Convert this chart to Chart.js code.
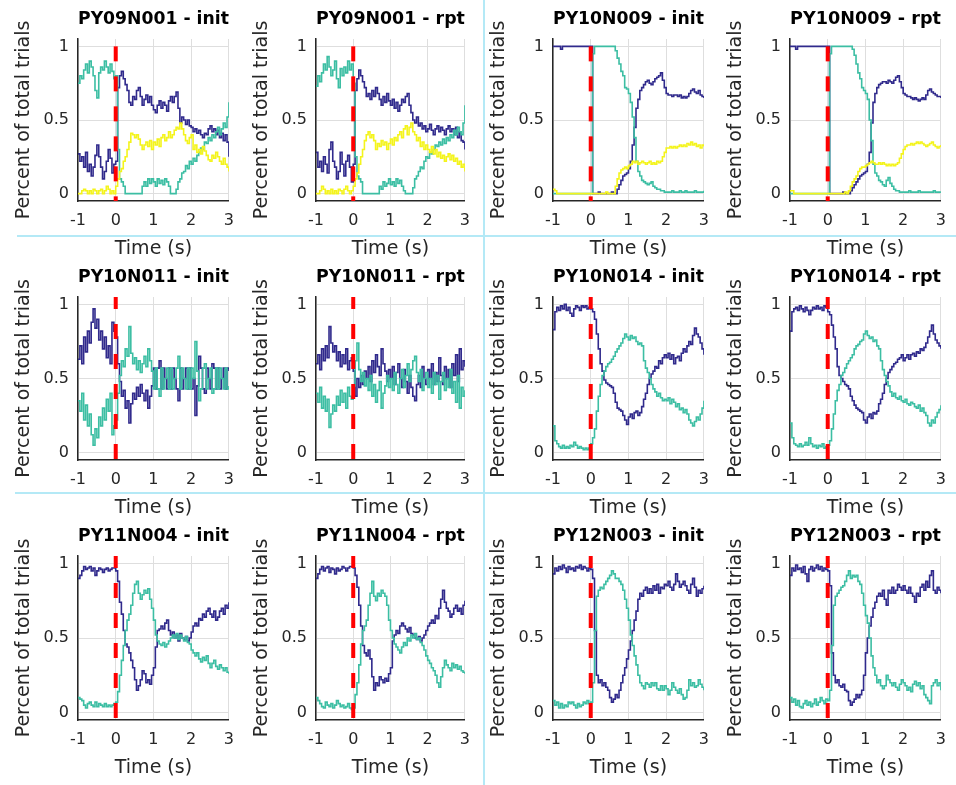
<!DOCTYPE html>
<html>
<head>
<meta charset="utf-8">
<script src="https://cdn.jsdelivr.net/npm/chart.js@4/dist/chart.umd.min.js"></script>
<style>
  html, body { margin: 0; padding: 0; background: #ffffff; }
  #fig { position: relative; width: 956px; height: 785px; overflow: hidden; background: #ffffff; }
  #fig canvas { position: absolute; }
  .sep { position: absolute; background: #b4e9f6; }
</style>
</head>
<body>
<div id="fig"></div>
<script>
// Sample times: -1 s to 3 s in 50 ms bins around the event
const TIME_START = -1;
const TIME_STEP = 0.05;
const SAMPLE_COUNT = 81;
const times = Array.from({ length: SAMPLE_COUNT }, (_, i) => +(TIME_START + i * TIME_STEP).toFixed(2));

const yTicks = [0, 0.5, 1];
const EVENT_TIME = 0;

// ---- PY09N001 ----
const py09n001InitBlue = [
  .27,.22,.25,.18,.28,.15,.20,.12,.18,.26,
  .33,.25,.18,.10,.15,.22,.30,.24,.14,.20,
  .22,.72,.80,.83,.78,.74,.70,.62,.60,.66,
  .64,.70,.72,.66,.60,.64,.67,.62,.66,.60,
  .57,.55,.60,.63,.58,.62,.60,.56,.63,.66,
  .62,.66,.69,.58,.48,.52,.50,.47,.50,.46,
  .45,.42,.44,.41,.43,.40,.38,.41,.40,.44,
  .46,.42,.44,.40,.43,.38,.41,.36,.40,.35,
  .25];
const py09n001InitTeal = [
  .75,.80,.78,.84,.88,.82,.90,.86,.80,.70,
  .65,.82,.86,.84,.90,.86,.82,.88,.83,.78,
  .80,.30,.10,.08,.05,0,0,0,0,0,
  0,0,0,0,.05,.08,.05,.10,.07,.10,
  .08,.05,.10,.07,.09,.06,.10,.08,.05,0,
  0,0,.03,.08,.10,.14,.15,.19,.17,.22,
  .20,.24,.22,.26,.28,.31,.30,.35,.34,.38,
  .36,.40,.38,.42,.45,.40,.44,.48,.45,.52,
  .62];
const py09n001InitYellow = [
  0,0,.02,.03,.02,0,.02,0,.03,.02,
  0,.02,.03,0,.02,.05,.03,0,.02,0,
  .05,.10,.15,.17,.22,.25,.30,.35,.41,.40,
  .38,.40,.37,.33,.30,.33,.35,.32,.36,.30,
  .35,.33,.37,.32,.38,.40,.36,.38,.42,.38,
  .40,.43,.45,.44,.48,.44,.40,.36,.34,.38,
  .40,.30,.33,.28,.30,.27,.32,.29,.26,.23,
  .22,.26,.24,.28,.25,.22,.20,.24,.20,.18,
  .15];
const py09n001RptBlue = [
  .28,.18,.22,.15,.25,.20,.14,.30,.35,.22,
  .18,.10,.15,.28,.20,.12,.22,.26,.18,.08,
  .20,.70,.78,.84,.80,.76,.72,.66,.68,.64,
  .70,.66,.72,.68,.64,.60,.66,.62,.68,.63,
  .60,.64,.58,.62,.56,.60,.64,.62,.66,.68,
  .60,.55,.50,.48,.52,.46,.48,.44,.46,.42,
  .44,.47,.43,.40,.44,.46,.42,.45,.43,.40,
  .44,.46,.42,.44,.40,.45,.38,.42,.36,.35,
  .30];
const py09n001RptTeal = [
  .73,.80,.76,.82,.88,.84,.93,.86,.80,.84,
  .90,.78,.72,.85,.80,.86,.82,.90,.84,.88,
  .75,.25,.12,.10,.08,0,0,0,0,0,
  0,0,0,0,.05,.03,.08,.05,.07,.10,
  .06,.08,.05,.10,.07,.09,.05,.02,0,0,
  0,0,.04,.10,.12,.15,.18,.17,.22,.25,
  .24,.28,.27,.30,.33,.32,.35,.33,.37,.34,
  .38,.36,.40,.38,.43,.40,.45,.42,.40,.48,
  .60];
const py09n001RptYellow = [
  0,0,.02,.05,.03,0,.02,0,.03,0,
  .02,0,.03,.02,0,.03,.05,.02,0,.02,
  .05,.10,.14,.20,.25,.30,.36,.40,.42,.38,
  .40,.36,.30,.34,.32,.36,.33,.35,.30,.34,
  .37,.33,.38,.36,.40,.42,.38,.44,.46,.40,
  .45,.48,.42,.40,.36,.38,.32,.35,.30,.33,
  .30,.28,.32,.27,.30,.25,.28,.24,.26,.22,
  .25,.27,.23,.26,.22,.24,.20,.22,.18,.20,
  .15];

// ---- PY10N009 ----
const py10n009InitBlue = [
  1,1,1,1,.98,1,1,1,1,1,
  1,1,1,1,1,1,1,1,1,1,
  1,0,0,0,.01,0,0,0,0,0,
  0,.01,0,0,.03,.06,.09,.12,.13,.14,
  .17,.22,.33,.45,.58,.64,.70,.72,.74,.76,
  .77,.75,.74,.76,.78,.79,.80,.82,.77,.72,
  .68,.67,.67,.66,.67,.67,.66,.67,.65,.66,
  .65,.66,.68,.70,.71,.69,.68,.70,.67,.66,
  .65];
const py10n009InitTeal = [
  0,0,0,0,0,0,0,0,0,0,
  0,0,0,0,0,0,0,0,0,0,
  0,.95,1,1,1,1,1,1,1,1,
  1,1,1,.97,.92,.88,.83,.80,.72,.71,
  .68,.62,.52,.38,.22,.15,.12,.09,.08,.07,
  .06,.07,.08,.05,.04,.03,.03,.02,.02,.01,
  .01,.01,.01,.02,.01,.01,.01,.02,.01,.01,
  .02,.01,.01,.01,.01,.02,.01,.01,.01,.01,
  .02];
const py10n009InitYellow = [
  .03,.02,0,0,0,0,0,0,0,0,
  0,0,0,0,0,0,0,0,0,0,
  0,0,0,0,0,0,0,0,.01,0,
  0,0,0,.05,.10,.14,.16,.17,.18,.17,
  .19,.20,.22,.21,.22,.20,.21,.22,.21,.20,
  .21,.22,.20,.21,.20,.22,.21,.22,.25,.28,
  .31,.31,.32,.31,.32,.31,.32,.33,.32,.33,
  .32,.34,.33,.35,.33,.34,.32,.33,.31,.33,
  .32];
const py10n009RptBlue = [
  1,1,1,.98,1,1,1,1,1,1,
  1,1,1,1,1,1,1,1,1,1,
  1,0,0,0,0,0,0,0,.01,0,
  0,0,.02,.04,.06,.08,.10,.12,.13,.14,
  .15,.20,.28,.48,.62,.68,.72,.74,.75,.76,
  .76,.75,.77,.76,.75,.77,.79,.80,.76,.72,
  .68,.67,.66,.66,.65,.64,.65,.64,.63,.64,
  .65,.64,.67,.70,.71,.69,.68,.67,.66,.66,
  .65];
const py10n009RptTeal = [
  0,0,0,0,0,0,0,0,0,0,
  0,0,0,0,0,0,0,0,0,0,
  0,.95,1,1,1,1,1,1,1,1,
  1,1,1,.98,.94,.88,.82,.78,.72,.70,
  .68,.64,.50,.36,.20,.14,.12,.09,.08,.06,
  .05,.09,.11,.07,.05,.03,.02,.02,.01,.01,
  .01,.01,.01,.02,.01,.01,.01,.01,.02,.01,
  .01,.01,.01,.01,.01,.01,.02,.01,.01,.01,
  .01];
const py10n009RptYellow = [
  .02,.02,0,0,0,0,0,0,0,0,
  0,0,0,0,0,0,0,0,0,0,
  0,0,0,0,0,0,0,0,0,.01,
  0,.02,.05,.08,.10,.12,.15,.17,.18,.18,
  .19,.20,.21,.22,.21,.20,.20,.21,.20,.21,
  .20,.19,.20,.19,.20,.19,.20,.21,.24,.27,
  .30,.32,.33,.33,.34,.33,.34,.35,.34,.35,
  .34,.33,.32,.33,.34,.35,.33,.32,.31,.32,
  .33];

// ---- PY10N011 ----
const py10n011InitBlue = [
  .63,.72,.60,.78,.68,.82,.74,.88,.97,.84,
  .90,.76,.82,.70,.78,.64,.72,.60,.88,.82,
  .78,.60,.48,.38,.42,.30,.35,.20,.33,.40,
  .36,.44,.38,.46,.40,.35,.42,.30,.38,.45,
  .57,.43,.57,.62,.43,.57,.50,.43,.57,.43,
  .57,.50,.43,.35,.57,.43,.50,.57,.43,.57,
  .43,.50,.25,.45,.65,.57,.43,.40,.57,.50,
  .43,.60,.57,.43,.57,.43,.50,.57,.43,.57,
  .55];
const py10n011InitTeal = [
  .35,.28,.40,.22,.32,.18,.26,.12,.05,.16,
  .10,.24,.18,.30,.22,.36,.28,.40,.12,.18,
  .22,.40,.52,.62,.58,.70,.65,.85,.67,.60,
  .64,.56,.62,.54,.60,.65,.58,.70,.62,.55,
  .43,.57,.43,.38,.57,.43,.50,.57,.43,.57,
  .43,.50,.57,.65,.43,.57,.50,.43,.57,.43,
  .57,.50,.75,.55,.35,.43,.57,.60,.43,.50,
  .57,.40,.43,.57,.43,.57,.50,.43,.57,.43,
  .45];
const py10n011RptBlue = [
  .60,.66,.56,.70,.62,.72,.64,.85,.74,.68,
  .72,.62,.68,.58,.66,.60,.70,.56,.62,.64,
  .55,.38,.50,.44,.52,.46,.55,.50,.58,.48,
  .62,.54,.66,.58,.52,.70,.60,.55,.48,.56,
  .50,.58,.46,.54,.60,.50,.44,.56,.48,.40,
  .52,.44,.38,.35,.46,.52,.44,.58,.50,.46,
  .56,.50,.60,.46,.54,.48,.64,.52,.46,.58,
  .50,.56,.44,.60,.52,.66,.48,.70,.56,.62,
  .58];
const py10n011RptTeal = [
  .40,.34,.44,.30,.38,.28,.36,.17,.26,.32,
  .28,.38,.32,.42,.34,.40,.30,.44,.38,.36,
  .45,.62,.74,.56,.48,.54,.45,.50,.42,.52,
  .38,.46,.34,.42,.48,.30,.40,.45,.52,.44,
  .50,.42,.54,.46,.40,.50,.56,.44,.52,.60,
  .48,.56,.62,.65,.54,.48,.56,.42,.50,.54,
  .44,.50,.40,.54,.46,.52,.36,.48,.54,.42,
  .50,.44,.56,.40,.48,.34,.52,.30,.44,.38,
  .42];

// ---- PY10N014 ----
const py10n014InitBlue = [
  .83,.95,.98,.96,.99,.97,1,.96,.98,.94,
  .92,.97,.99,.98,.96,.99,.98,.99,.97,.98,
  .97,.95,.90,.80,.70,.60,.55,.49,.47,.46,
  .45,.44,.40,.34,.30,.29,.28,.25,.22,.19,
  .24,.26,.23,.27,.28,.25,.27,.31,.36,.40,
  .46,.50,.53,.55,.58,.57,.62,.60,.64,.66,
  .64,.67,.63,.66,.60,.64,.65,.62,.67,.70,
  .68,.72,.75,.73,.79,.84,.80,.78,.74,.70,
  .66];
const py10n014InitTeal = [
  .18,.08,.06,.04,.03,.05,.03,.04,.03,.05,
  .04,.07,.05,.03,.04,.03,.02,.03,.02,.03,
  .06,.10,.16,.28,.38,.46,.52,.55,.58,.60,
  .61,.63,.65,.68,.70,.72,.74,.77,.80,.78,
  .76,.79,.77,.78,.75,.73,.74,.72,.62,.57,
  .54,.50,.46,.43,.41,.38,.40,.37,.35,.36,
  .35,.37,.33,.36,.34,.31,.33,.29,.30,.27,
  .29,.26,.22,.20,.18,.21,.24,.22,.26,.30,
  .35];
const py10n014RptBlue = [
  .82,.95,.97,.98,.96,.99,.97,.95,.98,.96,
  .93,.96,.98,.97,.99,.97,.98,.96,.99,.98,
  .95,.93,.86,.78,.70,.58,.52,.50,.48,.46,
  .45,.43,.38,.35,.32,.30,.29,.28,.27,.22,
  .20,.24,.26,.23,.27,.26,.28,.33,.36,.40,
  .46,.50,.54,.56,.58,.60,.61,.63,.64,.66,
  .62,.64,.66,.63,.66,.67,.65,.68,.67,.70,
  .69,.71,.74,.78,.82,.86,.80,.76,.74,.72,
  .70];
const py10n014RptTeal = [
  .20,.10,.06,.05,.04,.06,.04,.05,.07,.05,
  .10,.06,.04,.05,.03,.05,.04,.06,.03,.04,
  .05,.08,.16,.26,.35,.42,.46,.52,.54,.57,
  .60,.62,.64,.66,.70,.72,.73,.75,.76,.80,
  .82,.79,.77,.78,.75,.76,.72,.70,.62,.56,
  .52,.48,.45,.41,.38,.40,.37,.36,.38,.35,
  .34,.36,.33,.32,.34,.33,.31,.30,.32,.28,
  .30,.27,.25,.20,.18,.22,.20,.24,.27,.29,
  .32];

// ---- PY11N004 ----
const py11n004InitBlue = [
  .90,.92,.95,.98,.96,.97,.98,.95,.97,.92,
  .95,.97,.96,.94,.96,.97,.95,.96,.97,.97,
  .95,.88,.74,.66,.55,.46,.44,.40,.35,.30,
  .22,.15,.18,.22,.28,.26,.20,.22,.19,.25,
  .30,.44,.55,.56,.58,.56,.60,.62,.55,.52,
  .54,.50,.52,.48,.53,.50,.49,.51,.48,.50,
  .54,.58,.60,.58,.63,.62,.66,.64,.68,.70,
  .66,.64,.68,.62,.64,.68,.70,.66,.72,.70,
  .74];
const py11n004InitTeal = [
  .10,.09,.08,.05,.03,.06,.07,.05,.04,.07,
  .04,.06,.05,.04,.06,.04,.05,.04,.05,.06,
  .07,.14,.25,.35,.45,.55,.62,.66,.72,.80,
  .86,.88,.80,.76,.79,.82,.80,.83,.76,.70,
  .62,.52,.48,.46,.45,.47,.44,.46,.48,.50,
  .52,.50,.53,.49,.52,.50,.48,.51,.47,.46,
  .42,.40,.38,.40,.36,.34,.37,.35,.38,.33,
  .30,.33,.35,.31,.29,.32,.30,.28,.30,.27,
  .26];
const py11n004RptBlue = [
  .90,.93,.96,.98,.95,.97,.98,.94,.97,.96,
  .93,.97,.95,.96,.98,.97,.95,.97,.98,.98,
  .97,.92,.84,.72,.58,.45,.40,.38,.42,.36,
  .24,.15,.20,.18,.24,.22,.20,.23,.21,.26,
  .30,.48,.52,.55,.53,.58,.60,.58,.56,.54,
  .57,.53,.52,.50,.49,.51,.48,.50,.52,.55,
  .58,.60,.62,.60,.65,.63,.70,.76,.82,.74,
  .70,.68,.64,.66,.70,.72,.68,.70,.66,.72,
  .75];
const py11n004RptTeal = [
  .10,.08,.06,.04,.03,.07,.05,.04,.06,.03,
  .05,.08,.06,.04,.05,.03,.04,.06,.03,.02,
  .03,.12,.20,.32,.46,.55,.58,.62,.72,.80,
  .88,.78,.75,.80,.78,.82,.80,.78,.72,.62,
  .55,.50,.46,.44,.42,.40,.44,.47,.45,.50,
  .48,.52,.50,.53,.49,.50,.47,.45,.42,.38,
  .35,.33,.30,.28,.25,.20,.17,.24,.30,.35,
  .32,.30,.28,.33,.30,.32,.29,.31,.28,.27,
  .26];

// ---- PY12N003 ----
const py12n003InitBlue = [
  .93,.97,.95,.98,.96,.99,.97,.94,.98,.96,
  .97,.95,.98,.97,.99,.96,.98,.97,.95,.97,
  .96,.90,.55,.25,.20,.22,.18,.20,.17,.15,
  .10,.07,.09,.12,.10,.15,.20,.25,.30,.36,
  .42,.48,.55,.62,.68,.76,.80,.78,.82,.84,
  .80,.83,.80,.85,.82,.86,.80,.84,.83,.86,
  .85,.88,.84,.82,.86,.93,.88,.84,.86,.88,
  .85,.82,.80,.86,.90,.84,.78,.82,.80,.83,
  .85];
const py12n003InitTeal = [
  .08,.05,.07,.03,.06,.03,.05,.04,.07,.06,
  .07,.05,.03,.06,.04,.05,.07,.06,.08,.06,
  .07,.20,.55,.78,.82,.84,.83,.86,.88,.90,
  .92,.95,.93,.90,.90,.88,.86,.82,.76,.70,
  .62,.52,.45,.38,.32,.25,.20,.18,.16,.20,
  .19,.17,.20,.18,.20,.16,.15,.18,.15,.18,
  .16,.12,.15,.20,.17,.15,.13,.16,.12,.09,
  .10,.15,.22,.18,.20,.17,.18,.22,.19,.17,
  .15];
const py12n003RptBlue = [
  .92,.97,.95,.99,.96,.97,.94,.98,.93,.88,
  .96,.98,.95,.97,.99,.96,.98,.95,.97,.96,
  .95,.85,.40,.25,.20,.22,.18,.17,.19,.15,
  .14,.08,.05,.07,.09,.12,.10,.12,.15,.25,
  .40,.50,.58,.64,.70,.74,.78,.80,.78,.82,
  .76,.72,.82,.80,.84,.80,.82,.86,.84,.82,
  .85,.82,.80,.84,.80,.78,.74,.80,.78,.84,
  .86,.82,.88,.84,.92,.95,.82,.80,.84,.82,
  .80];
const py12n003RptTeal = [
  .10,.07,.09,.05,.08,.04,.03,.06,.08,.05,
  .07,.04,.06,.09,.05,.07,.10,.08,.06,.09,
  .08,.15,.45,.72,.78,.80,.82,.84,.85,.88,
  .92,.95,.90,.92,.91,.92,.88,.86,.80,.72,
  .65,.60,.50,.38,.30,.25,.20,.22,.18,.16,
  .18,.25,.22,.20,.18,.20,.17,.15,.19,.22,
  .20,.18,.15,.17,.14,.19,.21,.18,.20,.16,
  .18,.12,.10,.08,.06,.18,.20,.22,.18,.20,
  .15];

const panelTitles = [
  'PY09N001 - init', 'PY09N001 - rpt', 'PY10N009 - init', 'PY10N009 - rpt',
  'PY10N011 - init', 'PY10N011 - rpt', 'PY10N014 - init', 'PY10N014 - rpt',
  'PY11N004 - init', 'PY11N004 - rpt', 'PY12N003 - init', 'PY12N003 - rpt'
];
const panelSeries = [
  { blue: py09n001InitBlue, teal: py09n001InitTeal, yellow: py09n001InitYellow },
  { blue: py09n001RptBlue,  teal: py09n001RptTeal,  yellow: py09n001RptYellow },
  { blue: py10n009InitBlue, teal: py10n009InitTeal, yellow: py10n009InitYellow },
  { blue: py10n009RptBlue,  teal: py10n009RptTeal,  yellow: py10n009RptYellow },
  { blue: py10n011InitBlue, teal: py10n011InitTeal },
  { blue: py10n011RptBlue,  teal: py10n011RptTeal },
  { blue: py10n014InitBlue, teal: py10n014InitTeal },
  { blue: py10n014RptBlue,  teal: py10n014RptTeal },
  { blue: py11n004InitBlue, teal: py11n004InitTeal },
  { blue: py11n004RptBlue,  teal: py11n004RptTeal },
  { blue: py12n003InitBlue, teal: py12n003InitTeal },
  { blue: py12n003RptBlue,  teal: py12n003RptTeal }
];
// top end of the event marker in each row
const markerTop = [1, 1.05, 1.05];

// ---- layout of the 4 x 3 grid of axes (plot-area pixels) ----
const colLeft = [78, 316, 553, 790];
const colWidth = [158, 156, 158, 158];
const rowTop = [39, 297, 556];
const rowHeight = [162, 163, 164];
const Y_AXIS_BOX = 78, X_AXIS_BOX = 60, TITLE_BOX = 39, RIGHT_PAD = 8;

const COLORS = { blue: '#302a8c', teal: '#3cbea3', yellow: '#f4f41c', marker: '#ff0000' };
const FONT = 'DejaVu Sans';
const INK = '#262626';
const GRID = '#dedede';

const fig = document.getElementById('fig');

function series(values, color, order) {
  return {
    data: times.map((t, i) => ({ x: t, y: values[i] })),
    borderColor: color,
    borderWidth: 1.6,
    stepped: true,
    pointRadius: 0,
    fill: false,
    order: order
  };
}

panelTitles.forEach((title, p) => {
  const row = Math.floor(p / 4), col = p % 4;
  const canvas = document.createElement('canvas');
  const w = Y_AXIS_BOX + colWidth[col] + RIGHT_PAD;
  const h = TITLE_BOX + rowHeight[row] + X_AXIS_BOX;
  canvas.width = w; canvas.height = h;
  canvas.style.width = w + 'px'; canvas.style.height = h + 'px';
  canvas.style.left = (colLeft[col] - Y_AXIS_BOX) + 'px';
  canvas.style.top = (rowTop[row] - TITLE_BOX) + 'px';
  fig.appendChild(canvas);

  const s = panelSeries[p];
  const datasets = [
    {
      data: [{ x: EVENT_TIME, y: markerTop[row] }, { x: EVENT_TIME, y: -0.05 }],
      borderColor: COLORS.marker, borderWidth: 4, borderDash: [15, 15],
      borderDashOffset: row === 0 ? 0 : 3, borderCapStyle: 'butt',
      pointRadius: 0, fill: false, order: 0
    }
  ];
  if (s.yellow) datasets.push(series(s.yellow, COLORS.yellow, 1));
  datasets.push(series(s.teal, COLORS.teal, 2));
  datasets.push(series(s.blue, COLORS.blue, 3));

  new Chart(canvas, {
    type: 'line',
    data: { datasets },
    options: {
      responsive: false,
      maintainAspectRatio: false,
      devicePixelRatio: 1,
      animation: false,
      events: [],
      layout: { padding: { left: 0, right: RIGHT_PAD, top: 0, bottom: 0 } },
      plugins: {
        legend: { display: false },
        tooltip: { enabled: false },
        title: {
          display: true, text: title, fullSize: false, color: '#000000',
          font: { family: FONT, size: 18, weight: 'bold', lineHeight: 1.2 },
          padding: { top: 8.5, bottom: 8.9 }
        }
      },
      scales: {
        x: {
          type: 'linear', min: -1, max: 3,
          afterFit: sc => { sc.height = X_AXIS_BOX; },
          ticks: { stepSize: 1, padding: 10, color: INK, maxRotation: 0,
                   font: { family: FONT, size: 16, lineHeight: 1.2 } },
          grid: { color: GRID, lineWidth: 1, drawTicks: false },
          border: { display: true, color: INK, width: 1.5 },
          title: { display: true, text: 'Time (s)', color: INK,
                   font: { family: FONT, size: 19, lineHeight: 1.2 },
                   padding: { top: 0, bottom: 1 } }
        },
        y: {
          type: 'linear', min: -0.05, max: 1.05,
          afterBuildTicks: sc => { sc.ticks = yTicks.map(v => ({ value: v })); },
          afterFit: sc => { sc.width = Y_AXIS_BOX; },
          ticks: { padding: 9, color: INK, font: { family: FONT, size: 16, lineHeight: 1.2 },
                   callback: v => String(v) },
          grid: { color: GRID, lineWidth: 1, drawTicks: false },
          border: { display: true, color: INK, width: 1.5 },
          title: { display: true, text: 'Percent of total trials', color: INK,
                   font: { family: FONT, size: 19, lineHeight: 1.2 },
                   padding: { top: 13, bottom: 0 } }
        }
      }
    }
  });
});

// light divider lines between the four subject groups
[
  { left: 483, top: 0, width: 2, height: 785 },
  { left: 17, top: 235, width: 939, height: 2 },
  { left: 15, top: 492, width: 941, height: 2 }
].forEach(r => {
  const d = document.createElement('div');
  d.className = 'sep';
  Object.assign(d.style, { left: r.left + 'px', top: r.top + 'px', width: r.width + 'px', height: r.height + 'px' });
  fig.appendChild(d);
});
</script>
</body>
</html>
